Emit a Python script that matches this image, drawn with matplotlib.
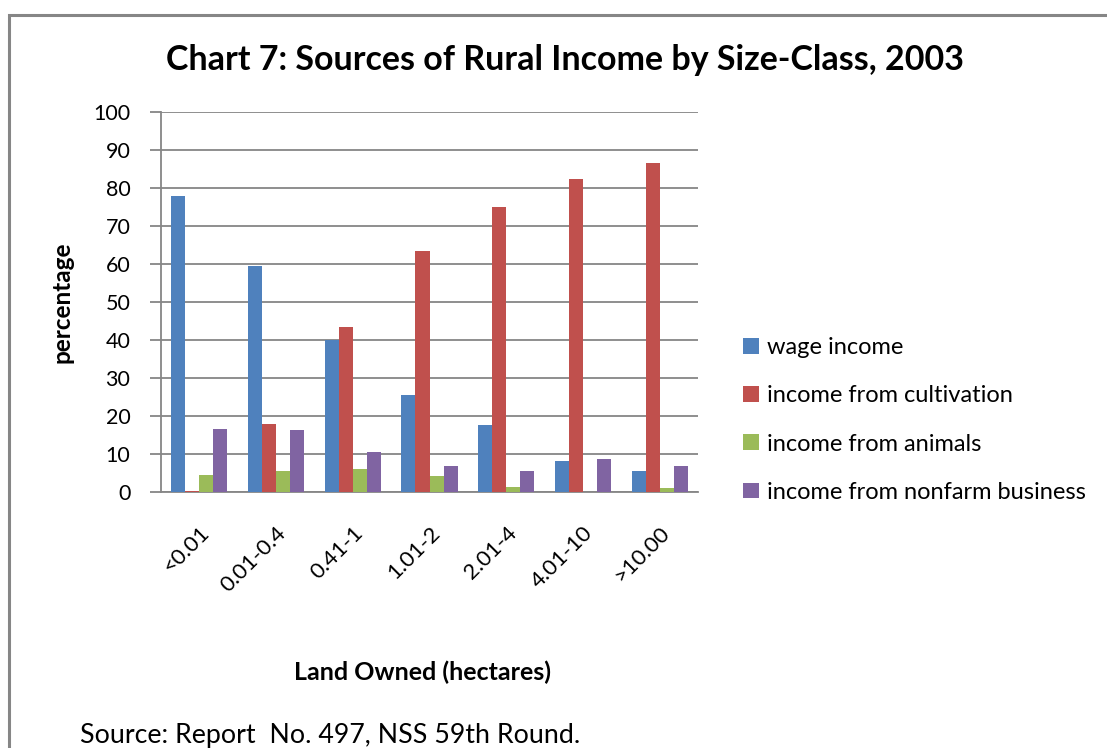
import matplotlib
matplotlib.use('Agg')
import matplotlib.pyplot as plt
from matplotlib.patches import Rectangle
import numpy as np

plt.rcParams['font.family'] = ['Lato', 'DejaVu Sans']

categories = ['<0.01', '0.01-0.4', '0.41-1', '1.01-2', '2.01-4', '4.01-10', '>10.00']
series_names = ['wage income', 'income from cultivation', 'income from animals',
                'income from nonfarm business']
wage = [78.0, 59.5, 39.9, 25.4, 17.7, 8.2, 5.6]
cultivation = [0.3, 18.0, 43.4, 63.5, 74.9, 82.3, 86.5]
animals = [4.5, 5.6, 6.1, 4.2, 1.3, 0.0, 1.1]
nonfarm = [16.7, 16.4, 10.6, 6.9, 5.6, 8.8, 6.9]
colors = ['#4f81bd', '#c0504d', '#9bbb59', '#8064a2']

W, H = 1107, 748
fig = plt.figure(figsize=(W / 100, H / 100), dpi=100)

# outer chart border
fig.patches.append(Rectangle((9 / W, -0.05), 1.2, (H - 15) / H + 0.05, transform=fig.transFigure,
                             fill=False, edgecolor='#868686', linewidth=2.2))

ax = fig.add_axes([161 / W, (H - 492) / H, (698 - 161) / W, (492 - 112) / H])

x = np.arange(len(categories))
bw = 0.183
for i, (vals, name) in enumerate(zip([wage, cultivation, animals, nonfarm], series_names)):
    ax.bar(x + (i - 1.5) * bw, vals, width=bw, color=colors[i], label=name, zorder=3)

ax.set_xlim(-0.5, len(categories) - 0.5)
ax.set_ylim(0, 100)
ax.set_yticks(range(0, 101, 10))
ax.yaxis.grid(True, color='#868686', linewidth=1.3, zorder=0)
for s in ['top', 'right']:
    ax.spines[s].set_visible(False)
for s in ['left', 'bottom']:
    ax.spines[s].set_color('#868686')
    ax.spines[s].set_linewidth(1.3)
ax.tick_params(axis='y', direction='out', length=8, width=1.3, color='#868686',
               labelsize=15.5, pad=14)
ax.tick_params(axis='x', length=0, labelsize=16, pad=22)
ax.set_xticks(x)
ax.set_xticklabels(categories, rotation=45, ha='right', rotation_mode='anchor')

ax.set_ylabel('percentage', fontsize=17.5, fontweight='bold', labelpad=14)
fig.text(422 / W, 1 - 672 / H, 'Land Owned (hectares)', fontsize=18, fontweight='bold',
         ha='center', va='center')

fig.text(565 / W, 1 - 60 / H, 'Chart 7: Sources of Rural Income by Size-Class, 2003',
         fontsize=24.5, fontweight='bold', ha='center', va='center')
fig.text(80 / W, 1 - 735 / H, 'Source: Report  No. 497, NSS 59th Round.', fontsize=19.3,
         ha='left', va='center')

leg = ax.legend(loc='center left', bbox_to_anchor=(722 / W, 1 - 420 / H),
                bbox_transform=fig.transFigure, frameon=False, fontsize=17,
                handlelength=0.65, handleheight=0.65, handletextpad=0.35, labelspacing=1.15)

fig.savefig('out.png', dpi=100)
